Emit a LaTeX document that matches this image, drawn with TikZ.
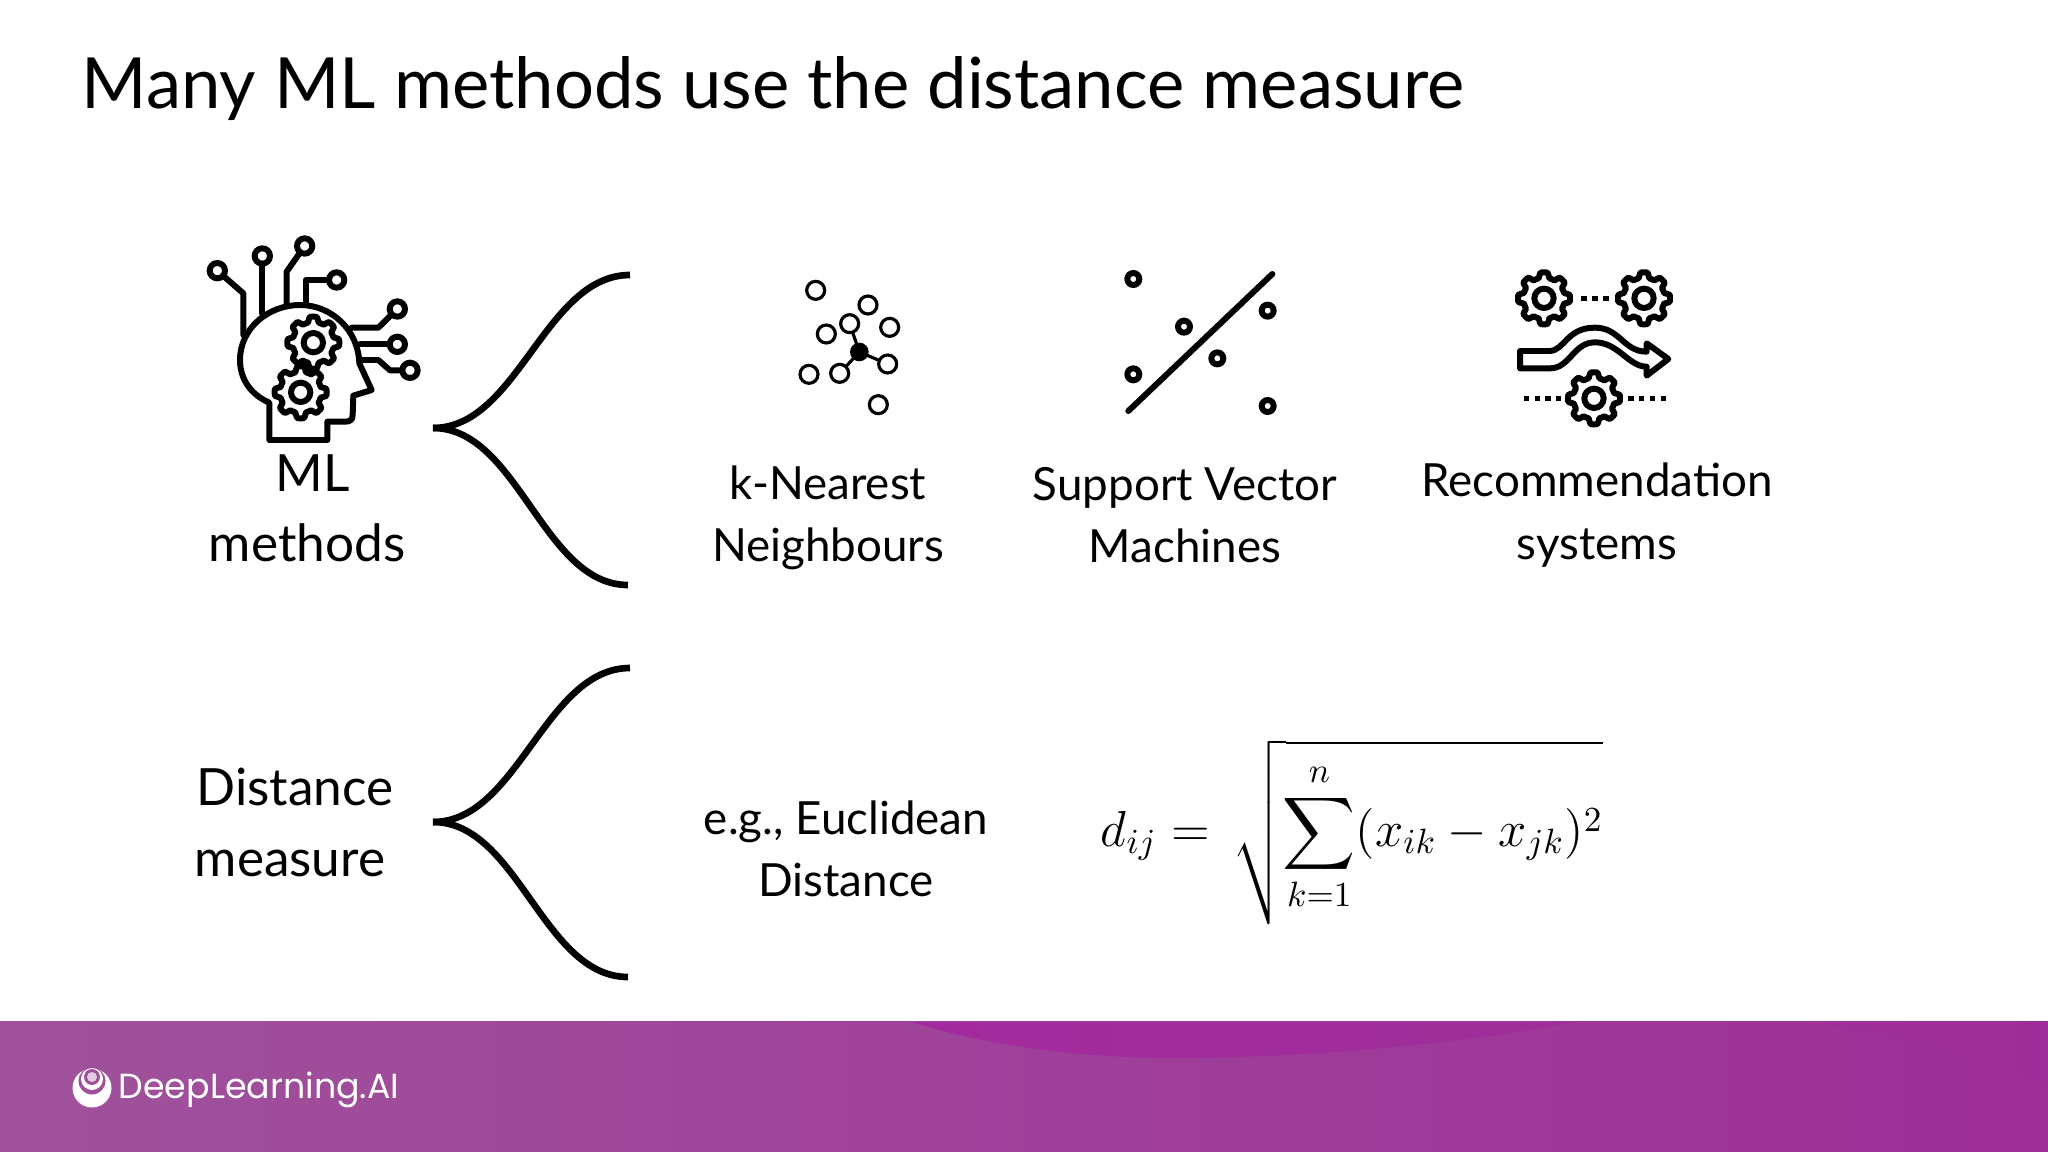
\documentclass[tikz,border=0pt]{standalone}
\usepackage{amsmath}
\usepackage{fontspec}
\setmainfont{Lato}
\newfontfamily\logofont{Poppins}
\definecolor{barleft}{HTML}{9F529B}
\definecolor{barright}{HTML}{9E2F98}
\definecolor{barblob}{HTML}{A32A9E}
\tikzset{
  brace/.style={line width=1.9pt},
  iconline/.style={line width=1.7pt,line join=round,line cap=round},
  thinline/.style={line width=0.9pt},
  label/.style={font=\fontsize{13}{17.7}\selectfont,align=center,inner sep=0pt},
  biglabel/.style={font=\fontsize{14.6}{17}\selectfont,inner sep=0pt},
  gearicon/.pic={
    \draw[iconline,fill=white] plot[samples=145,domain=0:360]
      (\x:{70+8*max(-1,min(1,2.2*cos(8*\x)))}) -- cycle;
    \draw[iconline] (0,0) circle (29);
  }
}

\begin{document}
\begin{tikzpicture}[x=0.01cm,y=-0.01cm]
  \useasboundingbox (0,0) rectangle (2048,1152);
  \fill[white] (0,0) rectangle (2048,1152);
  %
  \node[anchor=base west,inner sep=0pt,font=\fontsize{20.07}{24}\selectfont] (title) at (81,109)
    {Many ML methods use the distance measure};
  %
  % brace curves
  \coordinate (mlroot) at (433,428);
  \coordinate (mltop) at (630,275);
  \coordinate (mlbot) at (628,585);
  \coordinate (distroot) at (433,822);
  \coordinate (disttop) at (630,668);
  \coordinate (distbot) at (628,977);
  \draw[brace] (mlroot) .. controls +(85,0) and +(-85,0) .. (mltop);
  \draw[brace] (mlroot) .. controls +(85,0) and +(-85,0) .. (mlbot);
  \draw[brace] (distroot) .. controls +(85,0) and +(-85,0) .. (disttop);
  \draw[brace] (distroot) .. controls +(85,0) and +(-85,0) .. (distbot);
  %
  \node[biglabel] (mltext) at (313,473) {ML};
  \node[biglabel] (methodstext) at (307,543) {methods};
  \node[biglabel] (disttext) at (295,787) {Distance};
  \node[biglabel] (meastext) at (290,863) {measure};
  %
  \node[label] (knntext) at (828,518) {k-Nearest\\Neighbours};
  \node[label] (svmtext) at (1185,515) {Support Vector\\Machines};
  \node[label] (rectext) at (1597,515) {Recommendation\\systems};
  \node[label] (eucltext) at (846,849) {e.g., Euclidean\\Distance};
  %
  \node[inner sep=0pt,font=\fontsize{14.3}{17}\selectfont] (formula) at (1352,832)
    {$\displaystyle d_{ij} = \,\sqrt{\rule[-21.6pt]{0pt}{48pt}\mkern-4mu\sum_{k=1}^{n}(x_{ik}-x_{jk})^2}$};
  %
  % head icon
  \begin{scope}[shift={(190,220)},scale=1/3,iconline]
    \draw (82,152) -- (160,220) -- (160,345);
    \draw (217,108) -- (217,280);
    \draw (344,78) -- (290,155) -- (290,255);
    \draw (440,180) -- (347,180) -- (347,250);
    \draw (622,267) -- (565,323) -- (485,323);
    \draw (622,373) -- (510,373);
    \draw (660,451) -- (600,451) -- (565,420) -- (510,420);
    \foreach \px/\py in {82/152,217/108,344/78,440/180,622/267,622/373,660/451}
      \draw[fill=white] (\px,\py) circle (23);
    \draw[fill=white] (238,548) .. controls (185,525) and (150,480) .. (150,420)
      .. controls (150,325) and (235,255) .. (330,255)
      .. controls (425,255) and (505,330) .. (508,430)
      -- (545,510) -- (490,527) -- (488,585)
      .. controls (488,600) and (480,605) .. (465,605)
      -- (412,605) -- (412,660) -- (238,660) -- cycle;
    \pic[transform shape] at (370,368) {gearicon};
    \pic[transform shape] at (332,517) {gearicon};
  \end{scope}
  %
  % neighbours icon
  \begin{scope}[shift={(780,250)},scale=1/3]
    \draw[thinline] (238,306) -- (209,221);
    \draw[thinline] (238,306) -- (323,342);
    \draw[thinline] (238,306) -- (179,370);
    \foreach \px/\py in {107/121,264/165,209/221,329/232,139/252,323/342,87/373,179/370,295/464}
      \draw[thinline,fill=white] (\px,\py) circle (27);
    \fill (238,306) circle (28);
  \end{scope}
  %
  % separating line icon
  \begin{scope}[shift={(1110,260)},scale=1/3,iconline]
    \draw (55,453) -- (487,42);
    \foreach \px/\py in {70/57,222/200,473/152,70/343,322/295,473/438}
      \draw (\px,\py) circle (18);
  \end{scope}
  %
  % gears and arrow icon
  \begin{scope}[shift={(1500,255)},scale=1/3,iconline]
    \pic[transform shape] at (132,130) {gearicon};
    \pic[transform shape] at (432,130) {gearicon};
    \pic[transform shape] at (282,430) {gearicon};
    \foreach \px in {252,285,318}
      \fill (\px-8,122) rectangle (\px+8,138);
    \foreach \px in {80,112,144,176,393,425,458,490}
      \fill (\px-8,422) rectangle (\px+8,438);
    \draw (60,288) -- (150,288) .. controls (195,285) and (200,218) .. (285,218)
      .. controls (360,218) and (370,290) .. (440,290)
      -- (440,265) -- (505,312) -- (440,362) -- (440,335)
      .. controls (385,335) and (355,262) .. (285,262)
      .. controls (220,262) and (210,340) .. (150,340) -- (60,340) -- cycle;
  \end{scope}
  %
  % footer
  \shade[left color=barleft,right color=barright] (0,1021) rectangle (2048,1152);
  \shade[left color=barblob,right color=barright]
    (912,1022) .. controls (1000,1050) and (1100,1058) .. (1175,1058)
    .. controls (1300,1058) and (1450,1045) .. (1580,1022) -- cycle;
  \fill[barblob,opacity=0.25] (1815,1022) .. controls (1900,1040) and (2000,1060) .. (2048,1090)
    -- (2048,1022) -- cycle;
  %
  \fill[white] (92,1088) circle (19.5);
  \fill[barleft] (92,1081) circle (13.5);
  \fill[white] (92,1079) circle (11);
  \fill[barleft] (92,1077) circle (8);
  \fill[white!70!barleft] (92,1077) circle (5);
  \node[anchor=base west,inner sep=0pt,text=white,font=\logofont\fontsize{9.9}{11}\selectfont] (logotext) at (118,1098)
    {DeepLearning.AI};
\end{tikzpicture}
\end{document}
